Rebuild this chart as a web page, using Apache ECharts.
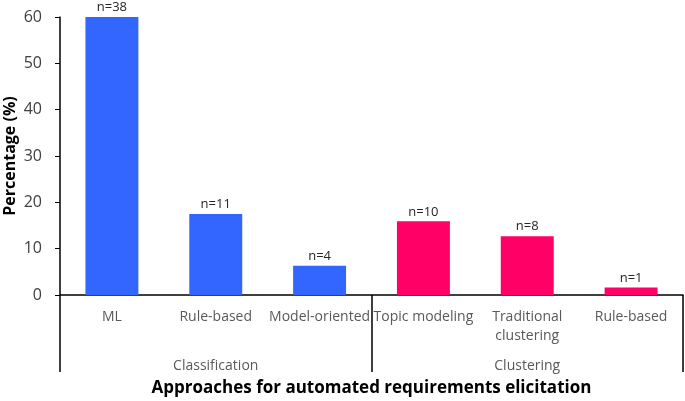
<!DOCTYPE html>
<html><head><meta charset="utf-8">
<script src="https://cdn.jsdelivr.net/npm/echarts@6/dist/echarts.min.js"></script>
<style>html,body{margin:0;padding:0;background:#fff}#c{width:685px;height:401px}</style>
</head><body><div id="c"></div>
<script>
const categories = ['ML', 'Rule-based', 'Model-oriented', 'Topic modeling', 'Traditional\nclustering', 'Rule-based'];
const groups = ['Classification', 'Clustering'];
const groupOf = [0, 0, 0, 1, 1, 1];
const percentages = [60.3, 17.5, 6.3, 15.9, 12.7, 1.6];
const counts = [38, 11, 4, 10, 8, 1];
const yTicks = [0, 10, 20, 30, 40, 50, 60];

const groupColors = ['#3366FF', '#FF0066'];
const font = 'Open Sans';
const chart = echarts.init(document.getElementById('c'), null, {renderer: 'canvas'});
chart.setOption({
  animation: false,
  grid: {left: 60, right: 2, top: 17, bottom: 106, containLabel: false, outerBoundsMode: 'none'},
  xAxis: [{
    type: 'category', data: categories, position: 'bottom',
    axisLine: {show: true, lineStyle: {color: '#000', width: 1.5}},
    axisTick: {show: false},
    axisLabel: {color: '#595959', fontFamily: font, fontSize: 14, margin: 13, lineHeight: 19, interval: 0}
  }, {
    type: 'category', data: groups, position: 'bottom',
    axisLine: {show: false},
    axisTick: {show: true, length: 77, lineStyle: {color: '#000', width: 1.5}},
    axisLabel: {color: '#595959', fontFamily: font, fontSize: 14, margin: 64},
    name: 'Approaches for automated requirements elicitation',
    nameLocation: 'middle', nameGap: 85, nameMoveOverlap: false,
    nameTextStyle: {color: '#000', fontFamily: font, fontSize: 17, fontWeight: 'bold'}
  }],
  yAxis: {
    type: 'value', min: yTicks[0], max: yTicks[yTicks.length - 1], interval: 10,
    axisLine: {show: true, lineStyle: {color: '#000', width: 1.5}},
    axisTick: {show: true, length: 5, lineStyle: {color: '#000'}},
    splitLine: {show: false},
    axisLabel: {color: '#404040', fontFamily: font, fontSize: 16, margin: 18},
    name: 'Percentage (%)', nameLocation: 'middle', nameGap: 42, nameRotate: 90, nameMoveOverlap: false,
    nameTextStyle: {color: '#000', fontFamily: font, fontSize: 16, fontWeight: 'bold'}
  },
  series: [{
    type: 'bar', xAxisIndex: 0, barWidth: '51%',
    data: percentages.map((v, i) => ({value: v, itemStyle: {color: groupColors[groupOf[i]]}})),
    label: {show: true, position: 'top', distance: 3, color: '#262626', fontFamily: font, fontSize: 13,
      formatter: p => 'n=' + counts[p.dataIndex]}
  }]
});
</script></body></html>
